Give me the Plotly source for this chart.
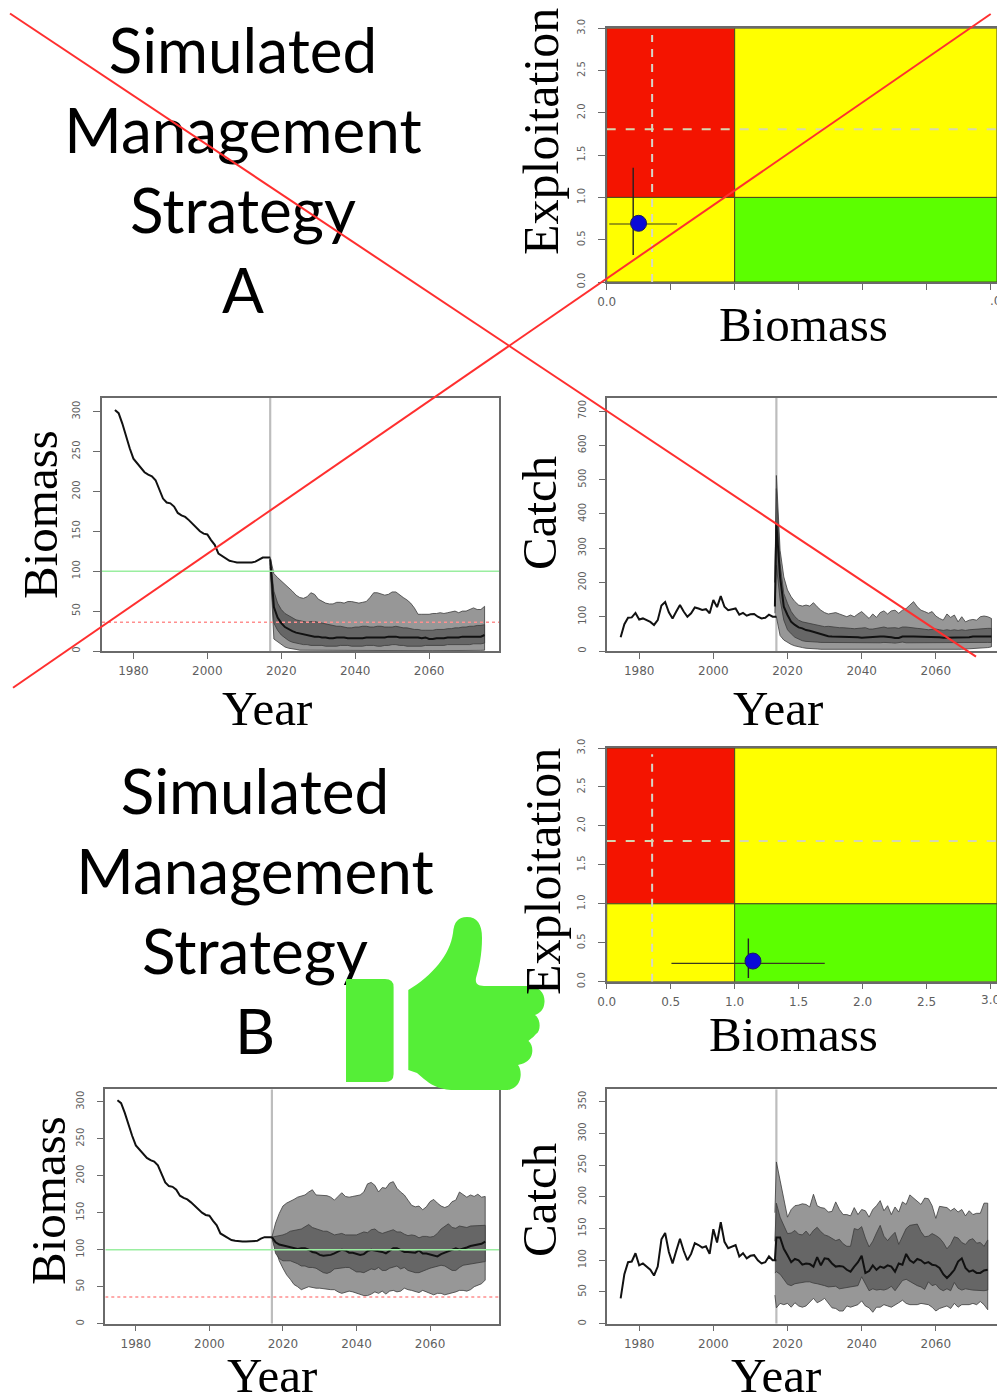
import plotly.graph_objects as go

W, H = 997, 1400

# ---------- data ----------
hist_years = list(range(1975, 2018))
hist_biomass = [302,298,285,269,254,241,235,229,224,221,219,214,202,191,186,185,181,173,170,168,164,159,155,150,147,146,139,133,122,119,116,113,112,111,111,111,111,111,112,115,117,117,117]
hist_catch = [40,78,97,98,111,92,95,90,85,76,90,133,143,113,95,115,134,115,100,110,127,124,120,122,110,149,128,160,129,119,122,124,106,111,103,107,108,100,95,97,106,100,100]

# Strategy A biomass, first value 2017
a_bio_q95 = [117,97,92,88,84,80,75,70,67,66,68,73,71,65,62,60,59,59,61,61,60,62,62,61,60,61,62,67,73,73,71,70,71,74,74,70,67,64,60,54,46,46,46,46,47,47,48,47,48,49,50,48,50,50,52,54,52,52,56]
a_bio_q75 = [117,75,60,52,47,44,41,39,38,37,36,37,37,36,35,34,33,32,31,31,30,29,29,30,30,31,31,30,30,31,31,30,30,30,31,30,29,29,28,27,27,26,26,26,26,27,27,27,28,28,29,29,30,30,31,31,32,32,33]
a_bio_q50 = [115,55,42,35,30,27,25,23,22,21,20,19,18,18,17,17,16,16,17,17,17,16,16,16,16,16,17,17,17,17,17,17,18,18,18,17,17,17,17,17,17,16,17,15,15,16,16,16,17,17,17,17,18,18,18,18,18,18,20]
a_bio_q25 = [110,35,26,20,16,13,11,10,9,8,8,7,7,7,7,6,6,6,6,7,7,7,6,6,6,6,7,7,7,6,6,7,7,8,8,7,7,6,6,6,6,6,7,7,7,7,7,7,8,8,8,8,8,8,8,9,9,9,10]
a_bio_q05 = [105,15,12,8,5,3.5,2.5,2,1,0.5,0.5,0.4,0.3,0.3,0.3,0.3,0.3,0.3,0.3,0.4,0.4,0.4,0.3,0.3,0.3,0.3,0.4,0.4,0.4,0.3,0.3,0.4,0.4,0.4,0.4,0.4,0.3,0.3,0.3,0.3,0.3,0.3,0.4,0.4,0.4,0.4,0.4,0.4,0.5,0.5,0.5,0.5,0.5,0.6,0.6,0.7,0.7,0.8,1]

# Strategy A catch, first value at the band's left edge, then 2017 onward
a_cat_q95 = [200,512,294,216,178,158,144,134,131,134,131,141,129,119,112,108,110,112,108,105,100,105,100,108,115,105,95,108,98,112,117,108,117,119,110,119,124,134,144,129,119,115,110,115,102,95,90,108,98,105,85,100,85,90,92,90,100,102,100,95]
a_cat_q75 = [200,474,255,168,139,115,100,90,85,83,80,78,76,74,71,72,70,70,68,68,66,66,65,65,67,68,64,64,66,68,70,67,68,68,66,70,70,68,68,66,65,63,62,63,64,62,60,62,60,62,60,62,60,62,63,64,66,66,66,66]
a_cat_q50 = [130,372,216,129,105,85,76,69,66,61,59,56,51,48,45,43,42,42,41,40,40,42,42,40,39,40,40,40,42,42,42,42,40,38,38,42,43,42,42,42,40,40,40,41,40,40,39,39,41,41,41,41,40,40,42,42,42,42,42,42]
a_cat_q25 = [110,250,150,90,62,50,40,34,30,28,27,26,26,25,25,25,24,24,24,24,25,24,24,23,24,25,24,24,24,24,25,25,24,23,24,26,24,24,25,24,24,24,23,23,24,23,23,24,24,24,23,24,24,24,24,25,25,25,25,25]
a_cat_q05 = [100,100,45,32,25,19,15,12,10,8,7,6,6,5,5,5,5,4,4,4,3,3,3,3,4,3,3,3,3,3,4,4,4,4,4,4,4,4,5,5,5,5,5,4,4,4,4,5,5,5,5,5,6,6,6,7,8,9,10,12]

# Strategy B biomass, first value 2017
b_bio_q95 = [117,136,149,159,163,165,168,171,172,174,178,181,174,174,174,173,171,167,172,177,172,171,172,173,174,178,189,191,187,178,184,183,190,192,183,178,174,167,160,158,159,154,158,165,168,163,159,157,159,165,167,178,174,171,174,172,175,171,172]
b_bio_q75 = [117,118,118,120,122,125,126,127,128,131,134,130,128,126,125,125,123,120,121,122,120,120,119,120,122,124,123,127,128,124,122,124,126,127,124,124,121,119,120,119,116,118,118,117,118,122,128,132,135,130,129,132,131,130,132,132,133,133,133]
b_bio_q50 = [117,110,107,106,105,104,102,101,102,102,100,97,96,93,92,92,93,95,97,100,99,96,96,94,93,94,98,100,99,99,97,95,98,102,102,100,97,97,96,96,99,95,95,94,93,91,94,96,98,100,102,100,101,103,105,106,106,108,111]
b_bio_q25 = [117,95,88,85,85,85,83,81,78,78,76,76,75,72,69,68,70,74,74,75,76,76,73,70,70,69,72,74,73,76,72,72,75,77,78,74,76,72,70,69,69,71,73,75,76,78,79,78,75,72,72,76,79,80,80,81,83,83,84]
b_bio_q05 = [117,100,85,75,66,60,53,50,46,48,50,49,48,48,47,47,46,46,43,41,42,44,43,41,40,38,38,40,43,41,44,40,44,45,43,44,48,46,45,44,42,45,42,41,39,41,41,39,40,42,43,45,45,44,46,50,52,54,59]

# Strategy B catch, first value at the band's left edge, then 2017 onward
b_cat_q95 = [175,255,226,194,168,180,186,187,189,188,184,204,186,183,182,176,177,192,180,172,172,170,183,172,180,178,168,180,186,194,178,186,172,184,176,192,188,203,198,194,188,198,197,186,166,185,184,183,178,182,176,180,170,178,172,174,174,190,190]
b_cat_q75 = [130,190,168,155,142,143,147,141,140,146,139,147,152,145,140,138,134,131,133,126,122,122,150,148,153,135,121,130,143,155,138,131,138,144,125,138,150,155,156,157,145,137,138,142,139,135,128,118,125,137,135,128,125,132,134,127,128,122,132]
b_cat_q50 = [100,136,136,118,108,97,102,100,93,95,94,90,105,92,103,102,95,90,91,90,85,82,90,97,107,80,83,92,85,90,88,92,90,82,95,93,110,100,96,102,100,95,97,93,92,88,78,72,78,85,98,103,88,82,84,80,80,84,85]
b_cat_q25 = [80,82,78,70,62,60,63,65,65,66,66,64,63,62,60,58,58,59,55,55,57,58,59,60,74,62,52,55,53,54,53,55,59,52,60,68,70,67,63,60,58,54,66,60,62,55,52,55,52,65,56,53,55,54,53,53,52,52,53]
b_cat_q05 = [45,25,32,30,32,26,33,28,26,28,34,40,33,36,40,32,25,24,20,20,28,26,28,30,36,28,25,18,26,26,30,28,26,30,33,37,32,30,30,30,32,31,30,26,20,24,26,28,24,32,26,30,30,30,32,30,35,30,22]

last_hist_year = [2017, 2017]
b_trp, b_lim = 100, 36
kobe_a_point = dict(x=0.249, y=0.694, xbar_x=[0.02, 0.55], xbar_y=0.686, ybar_x=0.207, ybar_y=[0.32, 1.35])
kobe_b_point = dict(x=1.143, y=0.265, xbar_x=[0.506, 1.704], xbar_y=0.236, ybar_x=1.107, ybar_y=[0.047, 0.556])
kobe_ref_b, kobe_ref_f = 0.355, 1.805
year_ticks = [1980, 2000, 2020, 2040, 2060]
kobe_ticks = [0, 0.5, 1, 1.5, 2, 2.5, 3]
strategy_a_lines = ["Simulated", "Management", "Strategy", "A"]
strategy_b_lines = ["Simulated", "Management", "Strategy", "B"]

# ---------- style ----------
AXC = "#6a6a6a"
TICKC = "#5f5f5f"
OUTER, INNER = "#979797", "#666666"
EDGE = "#3c3c3c"
TF = "DejaVu Sans"
RED_X = "#ff2f2f"
THUMB = "#55ee37"
KOBE_XMAX = 3.05

fig = go.Figure()

def domx(l, r): return [l / W, r / W]
def domy(t, b): return [(H - b) / H, (H - t) / H]

def axes(n, L, R, T, B, xr, yr, xt, yt, xtext=None, mirror_y=True, ytext=None):
    xa = dict(domain=domx(L, R), range=xr, tickmode="array", tickvals=xt,
              ticktext=xtext if xtext else [str(v) for v in xt],
              showline=True, mirror=True, linecolor=AXC, linewidth=1.5,
              ticks="outside", ticklen=6, tickcolor=AXC, tickwidth=1.3,
              tickfont=dict(family=TF, size=12, color=TICKC), showgrid=False, zeroline=False,
              anchor=f"y{n}", ticklabelstandoff=2, automargin=False)
    ya = dict(domain=domy(T, B), range=yr, tickmode="array", tickvals=yt,
              ticktext=ytext if ytext else [str(v) for v in yt], tickangle=-90,
              showline=True, mirror=mirror_y, linecolor=AXC, linewidth=1.5,
              ticks="outside", ticklen=7, tickcolor=AXC, tickwidth=1.3,
              tickfont=dict(family=TF, size=10, color=TICKC), showgrid=False, zeroline=False,
              anchor=f"x{n}", ticklabelstandoff=9, automargin=False)
    s = "" if n == 1 else str(n)
    fig.layout[f"xaxis{s}"] = xa
    fig.layout[f"yaxis{s}"] = ya

def tr(n):
    return dict(xaxis=f"x{'' if n == 1 else n}", yaxis=f"y{'' if n == 1 else n}",
                showlegend=False, hoverinfo="skip")

def band(n, x, up, lo, color):
    fig.add_trace(go.Scatter(x=x + x[::-1], y=up + lo[::-1], mode="lines", fill="toself",
                             fillcolor=color, line=dict(color=EDGE, width=0.8), **tr(n)))

def ts_panel(n, xr, years, q95, q75, q50, q25, q05, hist, refs=True, ymax=None):
    fig.add_trace(go.Scatter(x=last_hist_year, y=[0, ymax], mode="lines",
                             line=dict(color="#bdbdbd", width=2.2), **tr(n)))
    band(n, years, q95, q05, OUTER)
    band(n, years, q75, q25, INNER)
    fig.add_trace(go.Scatter(x=hist_years, y=hist, mode="lines",
                             line=dict(color="#111111", width=2), **tr(n)))
    fig.add_trace(go.Scatter(x=years, y=q50, mode="lines",
                             line=dict(color="#111111", width=2), **tr(n)))
    if refs:
        fig.add_trace(go.Scatter(x=xr, y=[b_trp, b_trp], mode="lines",
                                 line=dict(color="#9aeea0", width=1.6), **tr(n)))
        fig.add_trace(go.Scatter(x=xr, y=[b_lim, b_lim], mode="lines",
                                 line=dict(color="#ff8f8f", width=1.5, dash="dot"), **tr(n)))

def kobe_panel(n, xmax, pt):
    zones = [([0, 1], [1, 3], "#f41400"), ([1, xmax], [1, 3], "#ffff00"),
             ([0, 1], [0, 1], "#ffff00"), ([1, xmax], [0, 1], "#5cff00")]
    for xs, ys, c in zones:
        fig.add_trace(go.Scatter(x=[xs[0], xs[1], xs[1], xs[0], xs[0]],
                                 y=[ys[0], ys[0], ys[1], ys[1], ys[0]], mode="lines", fill="toself",
                                 fillcolor=c, line=dict(color="#4a4a20", width=1), **tr(n)))
    fig.add_trace(go.Scatter(x=[kobe_ref_b, kobe_ref_b], y=[0, 2.92], mode="lines",
                             line=dict(color="#d6d6c8", width=2, dash="8px 7px"), **tr(n)))
    fig.add_trace(go.Scatter(x=[0, xmax], y=[kobe_ref_f, kobe_ref_f], mode="lines",
                             line=dict(color="#d6d6b0", width=2, dash="9px 10px"), **tr(n)))
    fig.add_trace(go.Scatter(x=pt["xbar_x"], y=[pt["xbar_y"]] * 2, mode="lines",
                             line=dict(color="#3a3a20", width=1.2), **tr(n)))
    fig.add_trace(go.Scatter(x=[pt["ybar_x"]] * 2, y=pt["ybar_y"], mode="lines",
                             line=dict(color="#222222", width=1.4), **tr(n)))
    fig.add_trace(go.Scatter(x=[pt["x"]], y=[pt["y"]], mode="markers",
                             marker=dict(color="#0a0ad8", size=16, line=dict(color="#1a1a60", width=1)), **tr(n)))

# ---------- panels ----------
# kobe A
axes(1, 606.7, 997, 28.3, 282, [0, KOBE_XMAX], [0, 3], kobe_ticks, [0, .5, 1, 1.5, 2, 2.5, 3],
     xtext=["0.0", "", "", "", "", "", ""], mirror_y=False,
     ytext=["0.0", "0.5", "1.0", "1.5", "2.0", "2.5", "3.0"])
kobe_panel(1, KOBE_XMAX, kobe_a_point)
# kobe B
axes(2, 606.7, 997, 748, 981.7, [0, KOBE_XMAX], [0, 3], kobe_ticks, [0, .5, 1, 1.5, 2, 2.5, 3],
     xtext=["0.0", "0.5", "1.0", "1.5", "2.0", "2.5", ""], mirror_y=False,
     ytext=["0.0", "0.5", "1.0", "1.5", "2.0", "2.5", "3.0"])
kobe_panel(2, KOBE_XMAX, kobe_b_point)

bio_years_a = list(range(2017, 2017 + len(a_bio_q50)))
cat_years_a = [2016.6] + list(range(2017, 2017 + len(a_cat_q50) - 1))
bio_years_b = list(range(2017, 2017 + len(b_bio_q50)))
cat_years_b = [2016.6] + list(range(2017, 2017 + len(b_cat_q50) - 1))

# biomass A
rx = [1971.5, 2078.9]
axes(3, 102, 499, 398, 651, rx, [0, 317], year_ticks, [0, 50, 100, 150, 200, 250, 300])
ts_panel(3, rx, bio_years_a, a_bio_q95, a_bio_q75, a_bio_q50, a_bio_q25, a_bio_q05, hist_biomass, ymax=317)
# catch A
rx = [1971.4, 2076.5]
axes(4, 607.3, 997, 398, 651, rx, [0, 738], year_ticks, [0, 100, 200, 300, 400, 500, 600, 700], mirror_y=False)
ts_panel(4, rx, cat_years_a, a_cat_q95, a_cat_q75, a_cat_q50, a_cat_q25, a_cat_q05, hist_catch, refs=False, ymax=738)
# biomass B
rx = [1971.7, 2078.75]
axes(5, 105.3, 499, 1089.3, 1323.7, rx, [0, 316.8], year_ticks, [0, 50, 100, 150, 200, 250, 300])
ts_panel(5, rx, bio_years_b, b_bio_q95, b_bio_q75, b_bio_q50, b_bio_q25, b_bio_q05, hist_biomass, ymax=316.8)
# catch B
rx = [1971.4, 2076.5]
axes(6, 607.3, 997, 1089.3, 1323.7, rx, [0, 369.5], year_ticks, [0, 50, 100, 150, 200, 250, 300, 350], mirror_y=False)
ts_panel(6, rx, cat_years_b, b_cat_q95, b_cat_q75, b_cat_q50, b_cat_q25, b_cat_q05, hist_catch, refs=False, ymax=369.5)

# ---------- page-wide canvas: headings, thumb, crossing-out ----------
fig.layout["xaxis7"] = dict(domain=[0, 1], range=[0, W], visible=False, anchor="y7", fixedrange=True, automargin=False)
fig.layout["yaxis7"] = dict(domain=[0, 1], range=[H, 0], visible=False, anchor="x7", fixedrange=True, automargin=False)

heading_a_y = [57, 137, 217, 297]
heading_b_y = [798, 878, 958, 1038]
for lines, cx, ys in ((strategy_a_lines, 243, heading_a_y), (strategy_b_lines, 255, heading_b_y)):
    fig.add_trace(go.Scatter(x=[cx] * 4, y=ys, mode="text", text=lines, textposition="middle center",
                             textfont=dict(family="Lato", size=62, color="#000000"), cliponaxis=False, **tr(7)))

cross_1_x, cross_1_y = [10, 976], [13.5, 656.7]
cross_2_x, cross_2_y = [13, 990.7], [687.7, 14]
fig.add_trace(go.Scatter(x=cross_1_x, y=cross_1_y, mode="lines", line=dict(color=RED_X, width=2), **tr(7)))
fig.add_trace(go.Scatter(x=cross_2_x, y=cross_2_y, mode="lines", line=dict(color=RED_X, width=2), **tr(7)))

thumb_block = "M346,979 L385,979 Q393.6,979 393.6,987 L393.6,1074 Q393.6,1082 385,1082 L346,1082 Z"
thumb_hand = ("M408.3,990 C432,976 450,955 453,933 C454,922 458,917 467,917 C477,917 482,924 482,938 "
              "C482,955 479,968 476,978 C475,984 478,986 484,986 L527,986 C540,986 545,994 544.5,1002 "
              "C544,1010 540,1013 535,1015 C541,1019 541,1031 536,1034 C533,1038 530,1039 528.5,1041 "
              "C534,1045 534,1058 526,1062 C523,1064 520,1064 518,1065 C522,1070 522,1082 515,1087 "
              "C511,1090 508,1090 505,1090 L451,1090 C438,1089 430,1084 424,1079 L417,1073 L408.3,1070 Z")
shapes = [dict(type="path", xref="x7", yref="y7", path=thumb_block, fillcolor=THUMB, line=dict(width=0), layer="above"),
          dict(type="path", xref="x7", yref="y7", path=thumb_hand, fillcolor=THUMB, line=dict(width=0), layer="above")]

def title(text, x, y, angle=0, size=49):
    return dict(text=text, x=x / W, y=(H - y) / H, xref="paper", yref="paper", showarrow=False,
                textangle=angle, xanchor="center", yanchor="middle",
                font=dict(family="Liberation Serif", size=size, color="#000000"))

def edge_label(text, x, y):
    return dict(text=text, x=x / W, y=(H - y) / H, xref="paper", yref="paper", showarrow=False,
                xanchor="center", yanchor="middle", font=dict(family=TF, size=12, color=TICKC))

annotations = [
    title("Biomass", 803, 324), title("Exploitation", 541, 132, -90, 50),
    title("Biomass", 40, 515, -90), title("Year", 267, 708, 0, 49),
    title("Catch", 539, 513, -90), title("Year", 778, 708, 0, 49),
    title("Biomass", 793, 1034), title("Exploitation", 543, 872, -90, 50),
    title("Biomass", 48, 1201, -90), title("Year", 272, 1375, 0, 49),
    title("Catch", 539, 1200, -90), title("Year", 776, 1375, 0, 49),
    edge_label(".0", 995, 301), edge_label("3.0", 990, 1000),
]

fig.update_layout(template="none", width=W, height=H, margin=dict(l=0, r=0, t=0, b=0, pad=0), autosize=False,
                  paper_bgcolor="white", plot_bgcolor="rgba(0,0,0,0)",
                  shapes=shapes, annotations=annotations, showlegend=False)

fig.write_html("out.html", config={"displayModeBar": False},
               post_script="document.body.style.margin='0';document.body.style.overflow='hidden';")
